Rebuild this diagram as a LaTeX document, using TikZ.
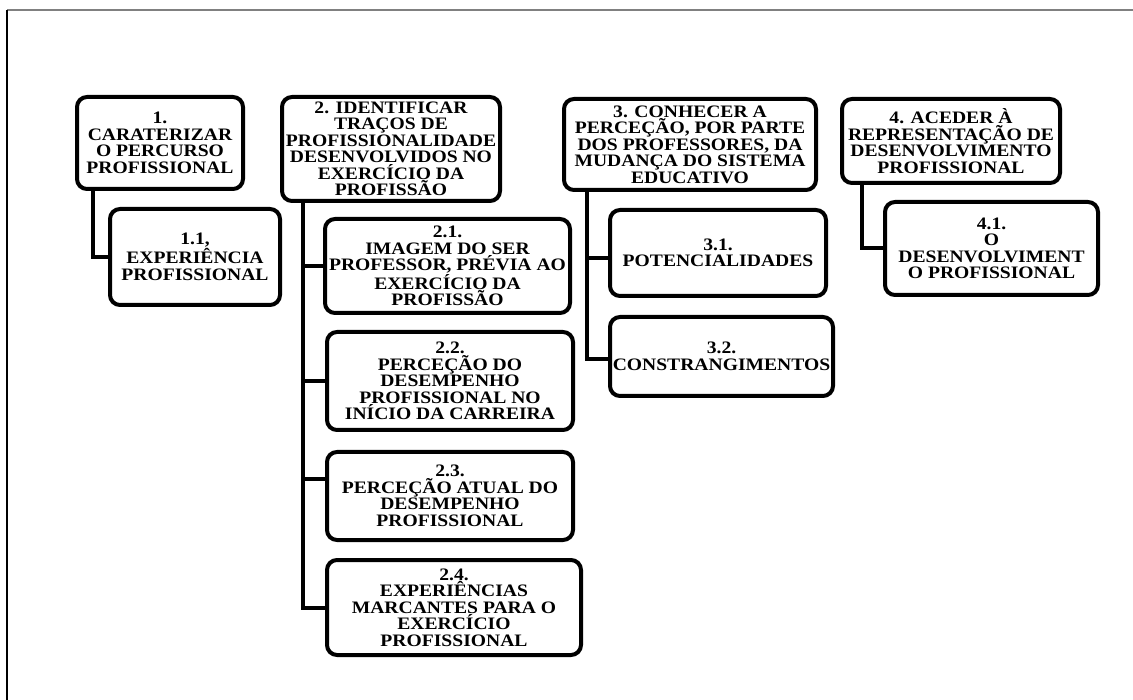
\documentclass[tikz,border=0pt]{standalone}
\usepackage{fontspec}
\setmainfont{Liberation Serif}[FakeStretch=1.12]
\begin{document}
\begin{tikzpicture}[x=1pt,y=-1pt,
  topic/.style={draw=black, line width=4pt, rounded corners=10pt, fill=white,
    align=center, inner sep=0pt, font=\bfseries\fontsize{17.5}{16.5}\selectfont},
  link/.style={draw=black, line width=4pt, line join=miter},
]
\useasboundingbox (0,0) rectangle (1133,700);
\fill[white] (0,0) rectangle (1133,700);
% page frame
\draw[gray, line width=2pt] (7,10.5) -- (1133,10.5);
\draw[black, line width=2pt] (7,10) -- (7,700);

% column 1
\node[topic, minimum width=166pt, minimum height=92pt] (B1) at (160,143)
  {1.\\CARATERIZAR\\O PERCURSO\\PROFISSIONAL};
\node[topic, minimum width=170pt, minimum height=96pt] (B11) at (195,257)
  {1.1,\\EXPERIÊNCIA\\PROFISSIONAL};

% column 2
\node[topic, minimum width=218pt, minimum height=104pt] (B2) at (391,149)
  {2. IDENTIFICAR\\TRAÇOS DE\\PROFISSIONALIDADE\\DESENVOLVIDOS NO\\EXERCÍCIO DA\\PROFISSÃO};
\node[topic, minimum width=245pt, minimum height=94pt] (B21) at (447.5,266)
  {2.1.\\IMAGEM DO SER\\PROFESSOR, PRÉVIA AO\\EXERCÍCIO DA\\PROFISSÃO};
\node[topic, minimum width=246pt, minimum height=98pt] (B22) at (450,381)
  {2.2.\\PERCEÇÃO DO\\DESEMPENHO\\PROFISSIONAL NO\\INÍCIO DA CARREIRA};
\node[topic, minimum width=246pt, minimum height=88pt] (B23) at (450,496)
  {2.3.\\PERCEÇÃO ATUAL DO\\DESEMPENHO\\PROFISSIONAL};
\node[topic, minimum width=254pt, minimum height=95pt] (B24) at (454,607.5)
  {2.4.\\EXPERIÊNCIAS\\MARCANTES PARA O\\EXERCÍCIO\\PROFISSIONAL};

% column 3
\node[topic, minimum width=252pt, minimum height=91pt] (B3) at (690,144.5)
  {3. CONHECER A\\PERCEÇÃO, POR PARTE\\DOS PROFESSORES, DA\\MUDANÇA DO SISTEMA\\EDUCATIVO};
\node[topic, minimum width=216pt, minimum height=86pt] (B31) at (718,253)
  {3.1.\\POTENCIALIDADES};
\node[topic, minimum width=223pt, minimum height=79pt] (B32) at (721.5,356.5)
  {3.2.\\CONSTRANGIMENTOS};

% column 4
\node[topic, minimum width=218pt, minimum height=84pt] (B4) at (951,141)
  {4. ACEDER À\\REPRESENTAÇÃO DE\\DESENVOLVIMENTO\\PROFISSIONAL};
\node[topic, minimum width=213pt, minimum height=93pt] (B41) at (991.5,248.5)
  {4.1.\\O\\DESENVOLVIMENT\\O PROFISSIONAL};

% connectors from each heading down its left side to the sub-items
\draw[link] ([xshift=18pt]B1.south west) |- (B11.west);
\draw[link] ([xshift=23pt]B2.south west) |- (B21.west);
\draw[link] ([xshift=23pt]B2.south west) |- (B22.west);
\draw[link] ([xshift=23pt]B2.south west) |- ([yshift=17pt]B23.west);
\draw[link] ([xshift=23pt]B2.south west) |- (B24.west);
\draw[link] ([xshift=25pt]B3.south west) |- ([yshift=-5pt]B31.west);
\draw[link] ([xshift=25pt]B3.south west) |- ([yshift=-3pt]B32.west);
\draw[link] ([xshift=22pt]B4.south west) |- (B41.west);
\end{tikzpicture}
\end{document}
